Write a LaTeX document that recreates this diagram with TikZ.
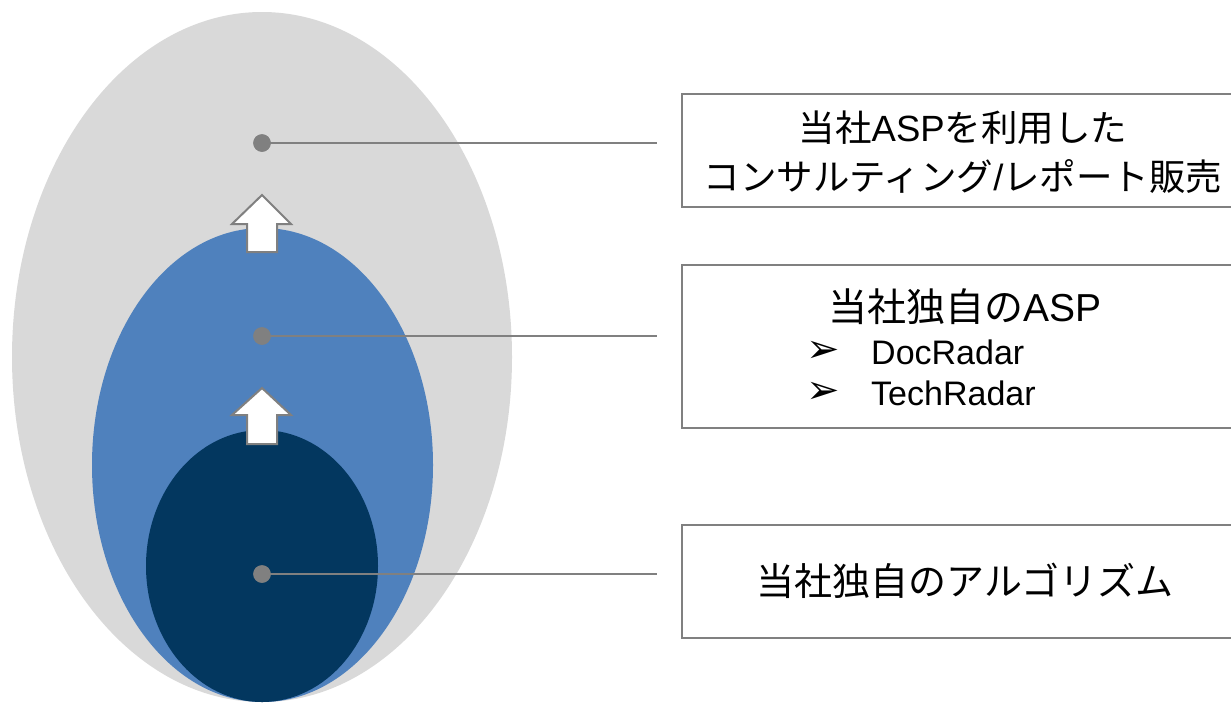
\documentclass[tikz,border=0pt]{standalone}
\usepackage{fontspec}
\setmainfont{Liberation Sans}
\newfontfamily\jp{Noto Sans CJK JP}
\newfontfamily\dv{DejaVu Sans}
\definecolor{lgray}{HTML}{D9D9D9}
\definecolor{midblue}{HTML}{4F81BD}
\definecolor{navy}{HTML}{03375F}
\definecolor{linegray}{HTML}{808080}
\begin{document}
\begin{tikzpicture}[x=1pt,y=-1pt,
  dotnode/.style={circle,fill=linegray,inner sep=0pt,minimum size=17.5pt},
  leader/.style={draw=linegray,line width=2pt},
  infobox/.style={draw=linegray,line width=2pt,fill=white,rectangle,inner sep=0pt},
  uparrow/.style={draw=linegray,line width=2pt,fill=white,line join=miter},
  bigtext/.style={font=\fontsize{36.5}{49}\selectfont,align=center,inner sep=0pt},
  bultext/.style={font=\fontsize{34}{40}\selectfont,anchor=west,inner sep=0pt},
  bulmark/.style={font=\dv\fontsize{40}{40}\selectfont,anchor=west,inner sep=0pt}]
\useasboundingbox (0,0) rectangle (1231,702);
% ellipses
\fill[lgray] (262,357) ellipse [x radius=250, y radius=345];
\fill[midblue] (262.5,465) ellipse [x radius=170.5, y radius=237];
\fill[navy] (262,566) ellipse [x radius=116, y radius=136];
% arrows
\draw[uparrow] (262,195) -- (291,224) -- (277,224) -- (277,252) -- (247,252) -- (247,224) -- (232,224) -- cycle;
\draw[uparrow] (262,388) -- (291,415) -- (277,415) -- (277,444) -- (247,444) -- (247,415) -- (232,415) -- cycle;
% dots and leaders
\node[dotnode] (d1) at (262,143) {};
\node[dotnode] (d2) at (262,336) {};
\node[dotnode] (d3) at (262,574) {};
\coordinate (e1) at (657,143);
\coordinate (e2) at (657,336);
\coordinate (e3) at (657,574);
\draw[leader] (d1.center) -- (e1);
\draw[leader] (d2.center) -- (e2);
\draw[leader] (d3.center) -- (e3);
\node[dotnode] at (d1) {};
\node[dotnode] at (d2) {};
\node[dotnode] at (d3) {};
% boxes
\node[infobox,minimum width=564pt,minimum height=113pt] (b1) at (964,150.5) {};
\node[bigtext] (t1) at (963,152.5) {{\jp 当社}ASP{\jp を利用した}\\{\jp コンサルティング}/{\jp レポート販売}};
\node[infobox,minimum width=564pt,minimum height=163pt] (b2) at (964,346.5) {};
\node[bigtext,font=\fontsize{39}{45}\selectfont] (t2) at (965,307) {{\jp 当社独自の}ASP};
\node[bulmark] (a1) at (806,352) {➢};
\node[bultext] (l1) at (871,352) {DocRadar};
\node[bulmark] (a2) at (806,393) {➢};
\node[bultext] (l2) at (871,393) {TechRadar};
\node[infobox,minimum width=564pt,minimum height=113pt] (b3) at (964,581.5) {};
\node[bigtext,font=\fontsize{38}{45}\selectfont] (t3) at (965,581) {{\jp 当社独自のアルゴリズム}};
\end{tikzpicture}
\end{document}
